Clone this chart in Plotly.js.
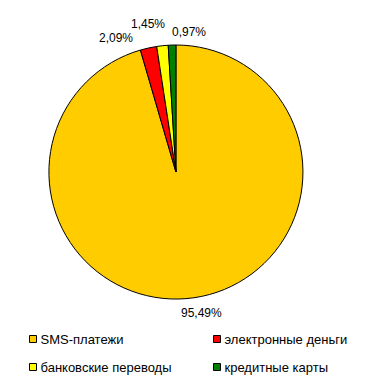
<!DOCTYPE html>
<html>
<head>
<meta charset="utf-8">
<script src="https://cdn.plot.ly/plotly-3.0.1.min.js"></script>
<style>html,body{margin:0;padding:0;background:#fff;}#chart{width:365px;height:387px;}</style>
</head>
<body>
<div id="chart"></div>
<script>
var categories = ["SMS-платежи", "электронные деньги", "банковские переводы", "кредитные карты"];
var shares = [95.49, 2.09, 1.45, 0.97];
var shareLabels = ["95,49%", "2,09%", "1,45%", "0,97%"];
var colors = ["#FFCC00", "#FF0000", "#FFFF00", "#008000"];

var FONT = "Liberation Sans, Arial, sans-serif";
var W = 365, H = 387;

// label anchor positions (pixels) for the percentage labels, as placed in the reference
var labelPosPx = [[202, 313], [116, 38], [148, 24], [189, 32]];

var trace = {
  type: "pie",
  labels: categories,
  values: shares,
  text: shareLabels,
  textinfo: "none",
  hoverinfo: "label+text",
  sort: false,
  direction: "clockwise",
  rotation: 0,
  marker: {colors: colors, line: {color: "#000000", width: 1}},
  domain: {x: [0.134, 0.830], y: [0.227, 0.884]}
};

var annotations = shareLabels.map(function (t, i) {
  return {
    text: t, xref: "paper", yref: "paper",
    x: labelPosPx[i][0] / W, y: 1 - labelPosPx[i][1] / H,
    xanchor: "center", yanchor: "middle", showarrow: false,
    font: {family: FONT, size: 12, color: "#000"}
  };
});

var layout = {
  width: W,
  height: H,
  margin: {l: 0, r: 0, t: 0, b: 0},
  paper_bgcolor: "#fff",
  showlegend: true,
  font: {family: FONT, size: 12, color: "#000"},
  annotations: annotations,
  legend: {
    orientation: "h",
    x: 0.0, xanchor: "left",
    y: 0.95, yanchor: "top",
    entrywidth: 150, entrywidthmode: "pixels",
    font: {family: FONT, size: 13, color: "#000"}
  }
};

// desired legend layout: text start x per column, row centre y per row
var legTextX = [40.5, 224.5];
var legRowY = [339, 367];

Plotly.newPlot("chart", [trace], layout, {displayModeBar: false, staticPlot: true}).then(function (gd) {
  var svg = gd.querySelector("svg.main-svg");
  var svgCTM = svg.getScreenCTM();
  gd.querySelectorAll(".legend [clip-path]").forEach(function (el) { el.removeAttribute("clip-path"); });
  var bg = gd.querySelector(".legend .bg");
  if (bg) bg.style.display = "none";
  var items = gd.querySelectorAll(".legend .traces");
  items.forEach(function (g, i) {
    var col = i % 2, row = Math.floor(i / 2);
    var parent = g.parentNode;
    var pm = parent.getScreenCTM();
    var ox = pm.e - svgCTM.e, oy = pm.f - svgCTM.f;
    var tx = legTextX[col] - 40 - ox;
    var ty = legRowY[row] - oy;
    g.setAttribute("transform", "translate(" + tx + "," + ty + ")");
    var p = g.querySelector(".legendpoints path");
    if (p) {
      p.setAttribute("d", "M3.5,3.5H-3.5V-3.5H3.5Z");
      p.setAttribute("transform", "translate(32.5,0)");
      p.style.strokeWidth = "1px";
      p.style.stroke = "#000";
    }
  });
});
</script>
</body>
</html>
